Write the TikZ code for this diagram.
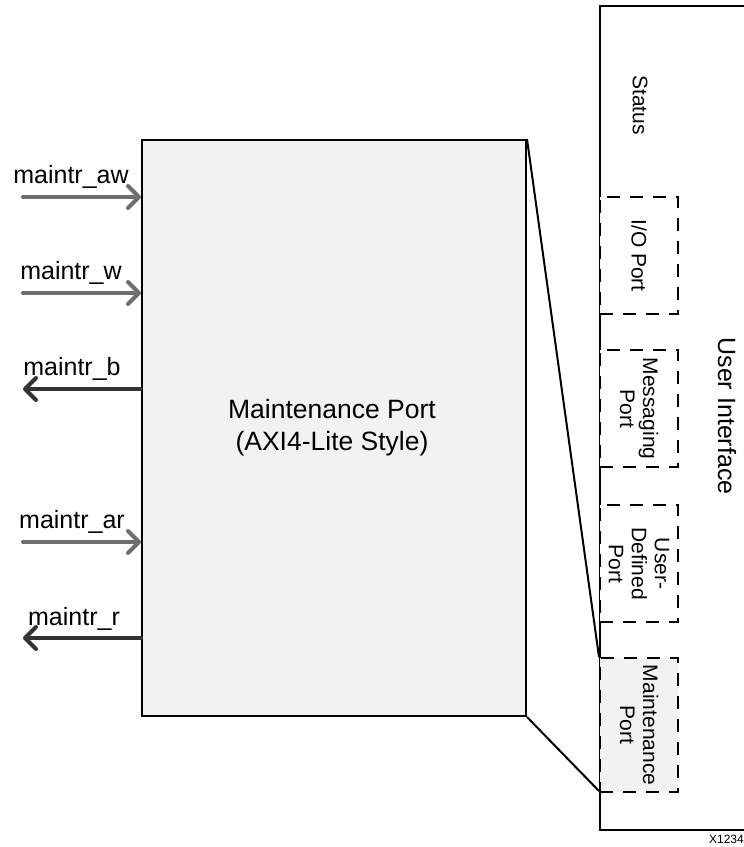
\documentclass[tikz,border=0pt]{standalone}
\usepackage{fontspec}
\setmainfont{Liberation Sans}
\usetikzlibrary{arrows.meta}
\definecolor{boxgray}{HTML}{F2F2F2}
\definecolor{ingray}{HTML}{6E6E6E}
\definecolor{outgray}{HTML}{333333}
\begin{document}
\begin{tikzpicture}[x=1pt,y=-1pt,
  mainbox/.style={draw=black, line width=2pt, fill=boxgray, minimum width=384pt, minimum height=576pt, inner sep=0pt, anchor=north west},
  uibox/.style={draw=black, line width=2pt, minimum width=170pt, minimum height=824pt, inner sep=0pt, anchor=north west},
  portbox/.style={draw=black, line width=2.2pt, dash pattern=on 13pt off 10pt, fill=white, minimum width=78pt, inner sep=0pt, anchor=north west},
  vtext/.style={rotate=-90, font=\fontsize{21}{23}\selectfont, align=center, inner sep=0pt},
  sig/.style={font=\fontsize{25}{28}\selectfont, inner sep=0pt, anchor=base},
  inarrow/.style={draw=ingray, line width=4pt, line cap=round, -{Straight Barb[length=11pt,width=22pt,round]}},
  outarrow/.style={draw=outgray, line width=4pt, line cap=round, -{Straight Barb[length=11pt,width=22pt,round]}},
  funnel/.style={draw=black, line width=2pt}
]
\useasboundingbox (0,0) rectangle (744,847);
% user interface outer box (extends beyond right edge)
\node[uibox] (ui) at (599,5) {};
\node[rotate=-90, font=\fontsize{25}{28}\selectfont, inner sep=0pt] (uitext) at (727,416) {User Interface};
\node[vtext] (status) at (640,105) {Status};
% main box
\node[mainbox] (main) at (141,139) {};
\node[font=\fontsize{26.5}{32}\selectfont, align=center, inner sep=0pt] (maintext) at (332,428) {Maintenance Port\\(AXI4-Lite Style)};
% port boxes
\node[portbox, minimum height=117pt] (io) at (599,196) {};
\node[vtext] (iot) at (io.center) {I/O Port};
\node[portbox, minimum height=117pt] (msg) at (599,349) {};
\node[vtext] (msgt) at (msg.center) {Messaging\\Port};
\node[portbox, minimum height=117pt] (ud) at (599,504) {};
\node[vtext] (udt) at (ud.center) {User-\\Defined\\Port};
\draw[funnel] (main.north east) -- (599,657) coordinate (mpnw);
\draw[funnel] (main.south east) -- (599,791) coordinate (mpsw);
\node[portbox, fill=boxgray, minimum height=134pt] (mp) at (599,657) {};
\node[vtext] (mpt) at (mp.center) {Maintenance\\Port};
% signals
\coordinate (aw) at (23,197);
\coordinate (w) at (23,293);
\coordinate (b) at (23,389);
\coordinate (ar) at (23,542);
\coordinate (r) at (23,638);
\draw[inarrow] (aw) -- (main.west |- aw);
\draw[inarrow] (w) -- (main.west |- w);
\draw[outarrow] (main.west |- b) -- (b);
\draw[inarrow] (ar) -- (main.west |- ar);
\draw[outarrow] (main.west |- r) -- (r);
\node[sig] (lab-aw) at (71,183) {maintr\_aw};
\node[sig] (lab-w) at (71,279) {maintr\_w};
\node[sig] (lab-b) at (72,375) {maintr\_b};
\node[sig] (lab-ar) at (72,528) {maintr\_ar};
\node[sig] (lab-r) at (74,625) {maintr\_r};
\node[font=\fontsize{12}{14}\selectfont, inner sep=0pt, anchor=base east] (fig) at (744,843) {X1234};
\end{tikzpicture}
\end{document}
